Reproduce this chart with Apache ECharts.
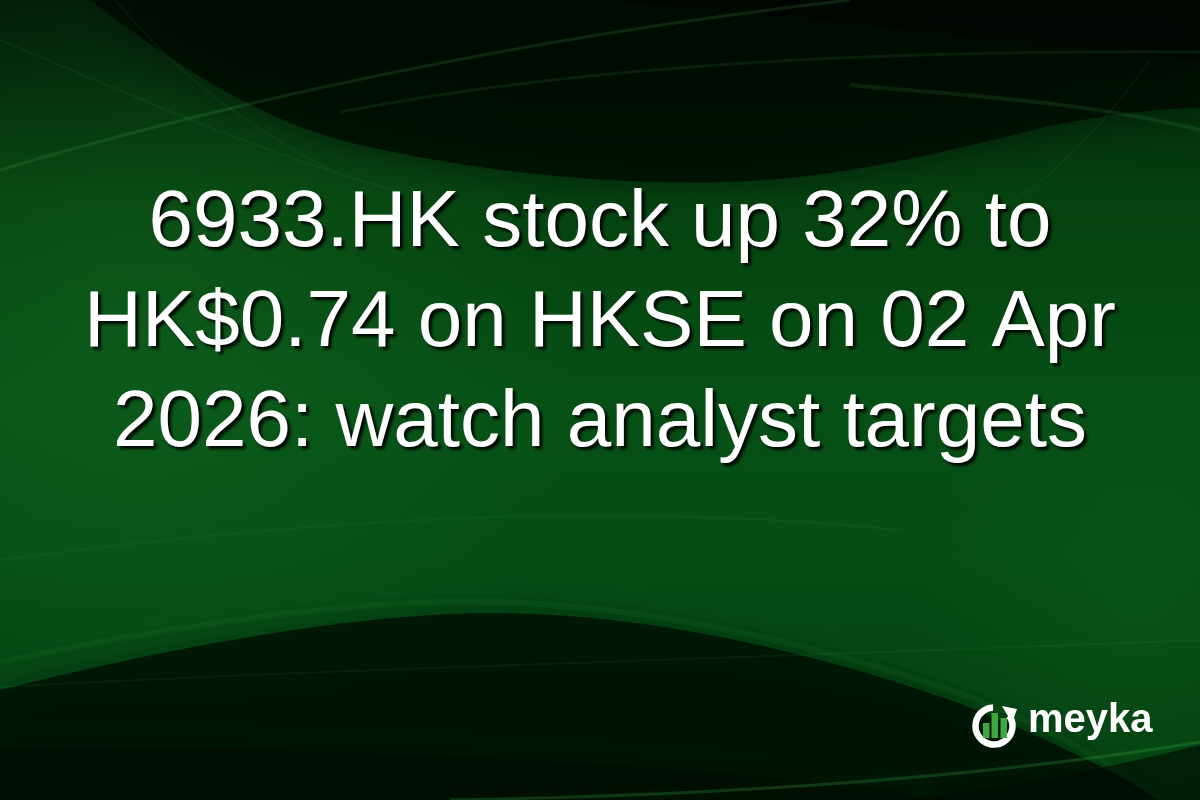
<!DOCTYPE html>
<html>
<head>
<meta charset="utf-8">
<script src="https://cdn.jsdelivr.net/npm/echarts@6/dist/echarts.min.js"></script>
<style>html,body{margin:0;padding:0;background:#000}#c{width:1200px;height:800px}</style>
</head>
<body>
<div id="c"></div>
<script>
// Content
const titleLines = ['6933.HK stock up 32% to', 'HK$0.74 on HKSE on 02 Apr', '2026: watch analyst targets'];
const brandName = 'meyka';
const logoBarHeights = [15, 25, 20];

const chart = echarts.init(document.getElementById('c'), null, {renderer: 'canvas'});

const W = 1200, H = 800;
const elements = [];
let pathIdx = 0;
function pathEl(d, style) {
  const name = 'bgpath' + (pathIdx++);
  echarts.graphic.registerShape(name, echarts.graphic.extendPath(d, {}));
  return {type: name, silent: true, style: style};
}

// Background base (vertical)
elements.push({
  type: 'rect', shape: {x: 0, y: 0, width: W, height: H}, silent: true,
  style: {fill: new echarts.graphic.LinearGradient(0, 0, 0, 1, [
    {offset: 0, color: '#042a0a'},
    {offset: 0.25, color: '#05420f'},
    {offset: 0.5, color: '#065016'},
    {offset: 0.7, color: '#054d15'},
    {offset: 1, color: '#033a0e'}
  ])}
});
// left highlight
elements.push({
  type: 'rect', shape: {x: 0, y: 0, width: W, height: H}, silent: true,
  style: {fill: new echarts.graphic.RadialGradient(0.12, 0.42, 0.55, [
    {offset: 0, color: 'rgba(25,115,40,0.35)'},
    {offset: 1, color: 'rgba(25,115,40,0)'}
  ])}
});
// right-bottom highlight
elements.push({
  type: 'rect', shape: {x: 0, y: 0, width: W, height: H}, silent: true,
  style: {fill: new echarts.graphic.RadialGradient(0.95, 0.78, 0.3, [
    {offset: 0, color: 'rgba(20,110,35,0.25)'},
    {offset: 1, color: 'rgba(20,110,35,0)'}
  ])}
});

// top dark cave / corner
elements.push(pathEl('M90,0 C170,60 250,115 340,140 C450,168 600,186 727,182 C850,178 950,150 1050,126 C1120,112 1170,108 1200,108 L1200,0 Z',
  {fill: 'rgba(0,10,2,0.72)', shadowBlur: 40, shadowColor: 'rgba(0,10,2,0.7)'}));
elements.push(pathEl('M600,0 C800,0 1000,0 1200,0 L1200,60 C1000,40 850,20 600,0 Z',
  {fill: 'rgba(0,5,1,0.5)', shadowBlur: 30, shadowColor: 'rgba(0,5,1,0.5)'}));
// top-left corner slightly darker
elements.push({
  type: 'rect', shape: {x: 0, y: 0, width: W, height: 200}, silent: true,
  style: {fill: new echarts.graphic.LinearGradient(0, 0, 0, 1, [
    {offset: 0, color: 'rgba(0,0,0,0.35)'},
    {offset: 1, color: 'rgba(0,0,0,0)'}
  ])}
});
// light streaks top
elements.push(pathEl('M0,170 C200,110 500,40 850,0',
  {fill: null, stroke: 'rgba(90,200,100,0.14)', lineWidth: 3, shadowBlur: 6, shadowColor: 'rgba(90,200,100,0.3)'}));
elements.push(pathEl('M340,112 C600,62 900,50 1200,52',
  {fill: null, stroke: 'rgba(90,200,100,0.10)', lineWidth: 3, shadowBlur: 6, shadowColor: 'rgba(90,200,100,0.3)'}));
elements.push(pathEl('M0,40 C120,90 250,150 400,192',
  {fill: null, stroke: 'rgba(90,200,100,0.07)', lineWidth: 2}));
elements.push(pathEl('M115,0 C160,50 200,100 330,170',
  {fill: null, stroke: 'rgba(90,200,100,0.06)', lineWidth: 2}));
elements.push(pathEl('M850,85 C950,95 1080,100 1200,130',
  {fill: null, stroke: 'rgba(90,200,100,0.12)', lineWidth: 4, shadowBlur: 10, shadowColor: 'rgba(90,200,100,0.4)'}));
elements.push(pathEl('M1000,210 C1050,180 1100,130 1150,60',
  {fill: null, stroke: 'rgba(90,200,100,0.06)', lineWidth: 2}));

// bottom: dark hill
elements.push(pathEl('M0,690 C150,652 350,612 500,613 C650,615 800,648 950,700 C1050,738 1120,775 1160,800 L0,800 Z',
  {fill: 'rgba(0,12,3,0.75)', shadowBlur: 30, shadowColor: 'rgba(0,12,3,0.5)'}));
// soft glow above the hill
elements.push(pathEl('M0,662 C150,630 350,597 500,602 C650,607 800,640 950,690 C1050,725 1120,770 1160,800',
  {fill: null, stroke: 'rgba(70,190,80,0.07)', lineWidth: 6, shadowBlur: 16, shadowColor: 'rgba(70,190,80,0.3)'}));
elements.push(pathEl('M0,687 C300,670 700,660 1200,640',
  {fill: null, stroke: 'rgba(90,200,100,0.07)', lineWidth: 2}));
elements.push(pathEl('M0,560 C300,520 600,500 900,530',
  {fill: null, stroke: 'rgba(90,200,100,0.05)', lineWidth: 3}));
// lower darkest band
elements.push(pathEl('M0,748 C300,745 600,760 900,790 L920,800 L0,800 Z',
  {fill: 'rgba(0,8,2,0.45)', shadowBlur: 20, shadowColor: 'rgba(0,8,2,0.4)'}));
// bottom right dark corner
elements.push(pathEl('M1200,745 C1100,770 1000,790 900,800 L1200,800 Z',
  {fill: 'rgba(0,8,2,0.6)'}));
// bright streak near bottom right
elements.push(pathEl('M450,800 C750,795 1000,775 1200,742',
  {fill: null, stroke: 'rgba(70,190,80,0.22)', lineWidth: 3, shadowBlur: 10, shadowColor: 'rgba(70,190,80,0.5)'}));

// Title lines
const fontSize = 80, lineGap = 100, firstMid = 224;
titleLines.forEach((t, i) => {
  elements.push({
    type: 'text', silent: true,
    x: 600, y: firstMid + i * lineGap,
    style: {
      text: t, fill: '#ffffff',
      font: 'normal ' + fontSize + 'px "Liberation Sans", Arial, sans-serif',
      align: 'center', verticalAlign: 'middle',
      textShadowColor: 'rgba(0,0,0,0.9)', textShadowBlur: 3,
      textShadowOffsetX: 3, textShadowOffsetY: 3
    }
  });
});

// Logo
const cx = 994, cy = 726, r = 18.5;
elements.push({
  type: 'arc', silent: true,
  shape: {cx: cx, cy: cy, r: r, startAngle: -0.6, endAngle: -Math.PI / 2 - 0.05, clockwise: true},
  style: {fill: null, stroke: '#ffffff', lineWidth: 6.5}
});
elements.push({
  type: 'polygon', silent: true,
  shape: {points: [[cx + 8, cy - 20], [cx + 23, cy - 17], [cx + 18, cy - 3]]},
  style: {fill: '#ffffff'}
});
const barW = 6.5, barXs = [cx - 11, cx - 2.5, cx + 6.5], barBottom = cy + 12;
logoBarHeights.forEach((h, i) => {
  elements.push({
    type: 'rect', silent: true,
    shape: {x: barXs[i], y: barBottom - h, width: barW, height: h},
    style: {fill: '#3ea83e'}
  });
});
elements.push({
  type: 'text', silent: true,
  x: 1028, y: 721,
  style: {
    text: brandName, fill: '#ffffff',
    font: 'bold 40px "Liberation Sans", Arial, sans-serif',
    align: 'left', verticalAlign: 'middle'
  }
});

chart.setOption({
  backgroundColor: '#032409',
  animation: false,
  graphic: {elements: elements}
});
</script>
</body>
</html>
